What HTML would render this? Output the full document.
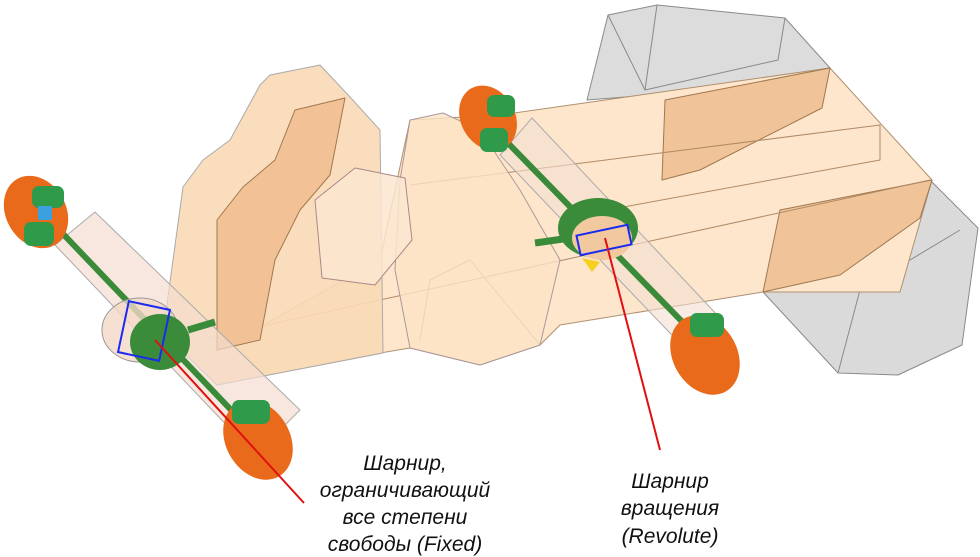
<!DOCTYPE html>
<html><head><meta charset="utf-8"><style>
html,body{margin:0;padding:0;background:#fff;width:980px;height:557px;overflow:hidden}
svg{display:block}
text{font-family:"Liberation Sans","DejaVu Sans",sans-serif;font-style:italic;font-size:21px;fill:#111;text-anchor:middle}
</style></head><body>
<svg width="980" height="557" viewBox="0 0 980 557" xmlns="http://www.w3.org/2000/svg">
<g stroke="#8a8a8a" stroke-width="1" stroke-linejoin="round">
<!-- grey boxes -->
<polygon points="587,100 608,15 657,5 785,18 830,68 650,95" fill="#dcdcdc"/>
<polyline points="608,15 645,90 657,5" fill="none"/>
<polyline points="645,90 778,60 785,18" fill="none"/>
<polygon points="763,292 930,180 978,228 962,345 898,375 838,373" fill="#dadada"/>
<polyline points="838,373 860,290 960,230" fill="none"/>
<!-- main orange beam -->
<polygon points="410,120 500,115 830,68 932,180 900,292 763,292 560,325 540,345 480,365 410,348 380,353 217,385 200,360 380,260" fill="#fde6cc" stroke="#b09070"/>
<polygon points="665,100 830,68 822,108 700,170 662,180" fill="#f0c498" stroke="#a07850"/>
<polygon points="780,210 932,180 920,218 840,275 763,292" fill="#f0c498" stroke="#a07850"/>
<polyline points="410,185 880,125 880,160 580,215" fill="none" stroke="#b08a66"/>
<polyline points="200,340 380,300 930,180" fill="none" stroke="#b08a66"/>
<polyline points="540,345 470,260 430,280 420,340" fill="none" stroke="#999"/>
<!-- middle block -->
<polygon points="410,120 443,113 480,130 520,190 560,260 540,345 480,365 410,348 395,270 400,180" fill="#fde3c6" fill-opacity=".8" stroke="#a99"/>
<!-- left tower -->
<polygon points="163,333 183,187 203,160 230,140 260,85 270,75 320,65 350,97 380,130 383,353 217,385" fill="#f9d9b6" fill-opacity=".9" stroke="#aaa"/>
<polygon points="217,350 217,220 243,187 275,160 295,110 345,98 330,175 300,210 275,260 260,340" fill="#f2c296" stroke="#a07850"/>
<polygon points="315,200 355,168 405,178 412,240 375,285 322,278" fill="#fbe6d0" fill-opacity=".85" stroke="#a88"/>
</g>
<!-- left axle -->
<g>
<polygon points="55,245 95,212 300,410 255,455" fill="#f3ddd0" fill-opacity=".7" stroke="#aaa"/>
<line x1="45" y1="215" x2="255" y2="435" stroke="#3a8a3a" stroke-width="6"/>
<ellipse cx="140" cy="330" rx="38" ry="32" fill="#f3d8c6" stroke="#999" fill-opacity=".8"/>
<ellipse cx="36" cy="212" rx="30" ry="38" fill="#e86a1a" transform="rotate(-30 36 212)"/>
<rect x="32" y="186" width="32" height="22" rx="7" fill="#2e9a4a"/>
<rect x="24" y="222" width="30" height="24" rx="7" fill="#2e9a4a"/>
<rect x="38" y="206" width="14" height="14" fill="#3aa0e0"/>
<ellipse cx="160" cy="342" rx="30" ry="28" fill="#3a8c3a"/>
<rect x="123" y="305" width="42" height="52" fill="none" stroke="#1a2af0" stroke-width="2" transform="rotate(12 144 331)"/>
<line x1="188" y1="330" x2="215" y2="322" stroke="#3a8c3a" stroke-width="7"/>
<ellipse cx="258" cy="440" rx="32" ry="42" fill="#e86a1a" transform="rotate(-30 258 440)"/>
<rect x="232" y="400" width="38" height="24" rx="7" fill="#2e9a4a"/>
</g>
<!-- right axle -->
<g>
<polygon points="500,155 532,118 720,318 688,352" fill="#f3ddd0" fill-opacity=".6" stroke="#aaa"/>
<line x1="505" y1="140" x2="700" y2="340" stroke="#3a8a3a" stroke-width="6"/>
<ellipse cx="488" cy="118" rx="27" ry="34" fill="#e86a1a" transform="rotate(-30 488 118)"/>
<rect x="487" y="95" width="28" height="22" rx="7" fill="#2e9a4a"/>
<rect x="480" y="128" width="28" height="24" rx="7" fill="#2e9a4a"/>
<ellipse cx="598" cy="228" rx="40" ry="30" fill="#3a8c3a"/>
<ellipse cx="602" cy="238" rx="30" ry="22" fill="#f2c99e"/>
<polygon points="582,258 600,262 592,272" fill="#f5d020"/>
<rect x="578" y="230" width="52" height="20" fill="none" stroke="#1a2af0" stroke-width="2" transform="rotate(-12 604 240)"/>
<line x1="535" y1="243" x2="570" y2="238" stroke="#3a8c3a" stroke-width="7"/>
<ellipse cx="705" cy="355" rx="32" ry="42" fill="#e86a1a" transform="rotate(-30 705 355)"/>
<rect x="690" y="313" width="34" height="24" rx="7" fill="#2e9a4a"/>
</g>
<!-- red leader lines -->
<line x1="155" y1="340" x2="304" y2="503" stroke="#e01010" stroke-width="2"/>
<line x1="605" y1="238" x2="660" y2="450" stroke="#e01010" stroke-width="2"/>
<text x="405" y="470">Шарнир,</text>
<text x="405" y="497">ограничивающий</text>
<text x="405" y="524">все степени</text>
<text x="405" y="551">свободы (Fixed)</text>
<text x="670" y="488">Шарнир</text>
<text x="670" y="515">вращения</text>
<text x="670" y="543">(Revolute)</text>
</svg>
</body></html>
